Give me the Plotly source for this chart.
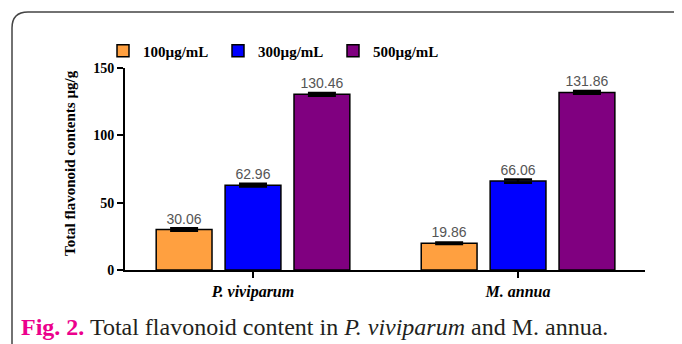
import plotly.graph_objects as go

categories = ["<i>P. viviparum</i>", "<i>M. annua</i>"]
series_names = ["100µg/mL", "300µg/mL", "500µg/mL"]
values_100 = [30.06, 19.86]
values_300 = [62.96, 66.06]
values_500 = [130.46, 131.86]
errors_100 = [1.0, 0.6]
errors_300 = [1.0, 1.2]
errors_500 = [1.0, 1.0]
colors = ["#FFA040", "#0000FF", "#800080"]
y_ticks = [0, 50, 100, 150]

OFF = 8  # page body margin
W, H = 682 - OFF, 344 - OFF
L, R, T, B = 125 - OFF, 645 - OFF, 68 - OFF, 270 - OFF  # plot area in figure pixels

def px_x(p):  # window pixel -> paper
    return (p - OFF - L) / (R - L)

def px_y(p):
    return (B - (p - OFF)) / (B - T)

SERIF = "Liberation Serif, Times New Roman, serif"

fig = go.Figure()
for name, vals, errs, col in zip(series_names, [values_100, values_300, values_500],
                                  [errors_100, errors_300, errors_500], colors):
    fig.add_trace(go.Bar(
        x=[0, 1], y=vals, name=name,
        marker=dict(color=col, line=dict(color="black", width=1.5)),
        error_y=dict(type="data", array=errs, color="black", thickness=2.5, width=14),
        text=[f"{v:.2f}" for v in vals], textposition="outside",
        textfont=dict(family="Liberation Sans, Arial", size=14, color="#555555"),
        cliponaxis=False,
    ))

fig.update_layout(
    width=W, height=H,
    margin=dict(l=L, r=W - R, t=T, b=H - B, pad=0),
    paper_bgcolor="white", plot_bgcolor="white",
    barmode="group", bargap=0.22, bargroupgap=0.19,
    showlegend=True,
    legend=dict(orientation="h", x=px_x(103), y=px_y(51), xanchor="left", yanchor="middle",
                font=dict(family=SERIF, size=15, color="black", weight="bold"),
                entrywidth=70, entrywidthmode="pixels", itemwidth=30,
                bgcolor="rgba(0,0,0,0)"),
    xaxis=dict(range=[-0.483, 1.479], tickvals=[0, 1], ticktext=categories,
               showline=True, linecolor="black", linewidth=2,
               ticks="outside", ticklen=6, tickwidth=2, tickcolor="black",
               showgrid=False, zeroline=False,
               tickfont=dict(family=SERIF, size=16, color="black", weight="bold")),
    yaxis=dict(range=[0, 150], tickvals=y_ticks,
               showline=True, linecolor="black", linewidth=2,
               ticks="outside", ticklen=6, tickwidth=2, tickcolor="black",
               showgrid=False, zeroline=False,
               tickfont=dict(family=SERIF, size=14, color="black", weight="bold")),
    font=dict(family=SERIF, color="black"),
)

# y-axis title
fig.add_annotation(x=px_x(60), y=px_y(163), xref="paper", yref="paper",
                   text="<b>Total flavonoid contents µg/g</b>", textangle=-90, showarrow=False,
                   font=dict(family=SERIF, size=15, color="black"))

# caption
fig.add_annotation(x=px_x(19), y=px_y(327), xref="paper", yref="paper", xanchor="left", yanchor="middle",
                   text="<span style='color:#EC008C'><b>Fig. 2.</b></span> Total flavonoid content in <i>P. viviparum</i> and M. annua.",
                   showarrow=False,
                   font=dict(family=SERIF, size=24, color="#231F20"))

# rounded border (left and top edges)
r = 16
path = (f"M {px_x(12)},{px_y(352)} L {px_x(12)},{px_y(12 + r)} "
        f"Q {px_x(12)},{px_y(12)} {px_x(12 + r)},{px_y(12)} L {px_x(700)},{px_y(12)}")
fig.add_shape(type="path", path=path, xref="paper", yref="paper",
              line=dict(color="#444444", width=1.5))

fig.write_html("out.html")
